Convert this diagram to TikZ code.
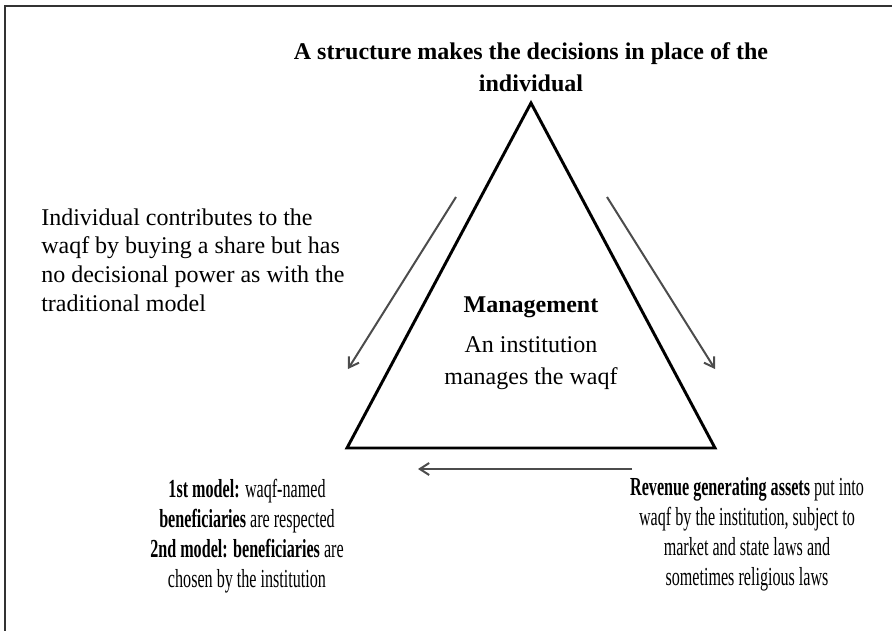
\documentclass[tikz,border=0pt]{standalone}
\usepackage{fontspec}
\setmainfont{Liberation Serif}
\newfontfamily\narrowfont{Liberation Serif}[FakeStretch=0.62]
\usetikzlibrary{arrows.meta}

\begin{document}
\begin{tikzpicture}[x=0.75pt,y=-0.75pt,
  every node/.style={inner sep=0pt,font=\fontsize{18}{21.5}\selectfont},
  narrow/.style={align=center,anchor=base,font=\narrowfont\fontsize{19.5}{22.5}\selectfont},
  side/.style={draw,line width=2.2pt,line join=miter},
  flow/.style={draw=black!70,line width=1.5pt,-{Straight Barb[length=7pt,width=9pt]}}]
\useasboundingbox (0,0) rectangle (892,631);
\draw[line width=1.5pt,black!80] (5,631) -- (5,6) -- (892,6);

\coordinate (apex) at (531,103);
\coordinate (baseL) at (347,448);
\coordinate (baseR) at (715,448);
\draw[side] (apex) -- (baseL) -- (baseR) -- cycle;

\node[font=\fontsize{18}{24}\selectfont\bfseries,align=center,anchor=base] (title) at (531,92)
  {A structure makes the decisions in place of the\\individual};
\node[align=left,anchor=base west] (share) at (41,311)
  {Individual contributes to the\\waqf by buying a share but has\\no decisional power as with the\\traditional model};
\node[font=\fontsize{18}{22}\selectfont\bfseries,anchor=base] (mgmt) at (531,312) {Management};
\node[align=center,anchor=base,font=\fontsize{18}{24}\selectfont] (inst) at (531,384)
  {An institution\\manages the waqf};
\node[narrow] (benef) at (247,587)
  {\textbf{1st model:} waqf-named\\\textbf{beneficiaries} are respected\\\textbf{2nd model: beneficiaries} are\\chosen by the institution};
\node[narrow] (assets) at (747,585)
  {\textbf{Revenue generating assets} put into\\waqf by the institution, subject to\\market and state laws and\\sometimes religious laws};

\coordinate (inL) at (456,197);
\coordinate (outL) at (348,369);
\coordinate (inR) at (607,197);
\coordinate (outR) at (715,369);
\coordinate (inB) at (632,469);
\coordinate (outB) at (418,469);
\draw[flow] (inL) -- (outL);
\draw[flow] (inR) -- (outR);
\draw[flow] (inB) -- (outB);
\end{tikzpicture}
\end{document}
